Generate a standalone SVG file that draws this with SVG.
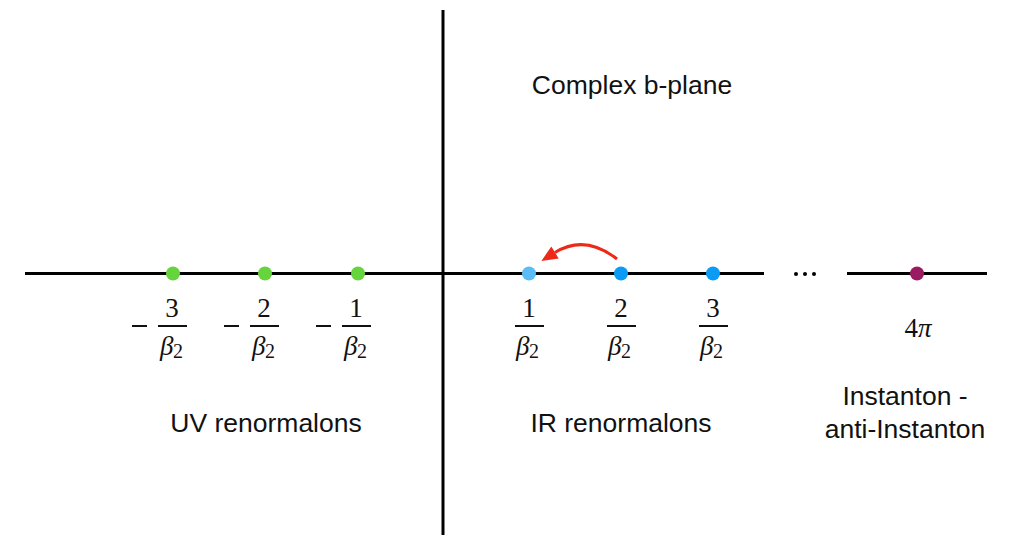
<svg xmlns="http://www.w3.org/2000/svg" width="1012" height="537" viewBox="0 0 1012 537">
<style>
.axis{stroke:#000;stroke-width:3;fill:none}
.lbl{font-family:"Liberation Sans",Arial,sans-serif;font-size:26.5px;fill:#111;text-anchor:middle}
.m{font-family:"Liberation Serif","Times New Roman",serif;font-size:27px;fill:#111;text-anchor:middle}
.mi{font-family:"Liberation Serif","Times New Roman",serif;font-size:27px;font-style:italic;fill:#111}
.sub{font-family:"Liberation Serif","Times New Roman",serif;font-size:20px;fill:#111}
.bar{stroke:#111;stroke-width:2}
.g{fill:#66d43c}
.b{fill:#0a9cf5}
.lb{fill:#5bbcf8}
.p{fill:#9a1b62}
</style>
<defs>
<marker id="ah" markerWidth="17" markerHeight="15" refX="0" refY="7" orient="auto" markerUnits="userSpaceOnUse" viewBox="0 0 17 14" overflow="visible">
<path d="M0,0 L16,7 L0,14 z" fill="#ec2a17"/>
</marker>
</defs>
<g id="axes">
<line class="axis" x1="25" y1="273.500" x2="764" y2="273.500"/>
<line class="axis" x1="847" y1="273.500" x2="987" y2="273.500"/>
<line class="axis" x1="443" y1="10" x2="443" y2="535"/>
<circle cx="796" cy="274" r="2" fill="#000"/>
<circle cx="805" cy="274" r="2" fill="#000"/>
<circle cx="814" cy="274" r="2" fill="#000"/>
</g>
<g id="connectors">
<path d="M617,259 Q585,234 555,252.500" fill="none" stroke="#ec2a17" stroke-width="3" marker-end="url(#ah)"/>
</g>
<g id="uv3"><circle class="g" cx="173" cy="273.500" r="7"/>
<line class="bar" x1="132" y1="326" x2="147" y2="326"/><line class="bar" x1="158" y1="326" x2="187" y2="326"/>
<text x="172" y="317" class="m">3</text><text x="160" y="355" class="mi">β</text><text x="173" y="358" class="sub">2</text></g>
<g id="uv2"><circle class="g" cx="265" cy="273.500" r="7"/>
<line class="bar" x1="224" y1="326" x2="239" y2="326"/><line class="bar" x1="250" y1="326" x2="279" y2="326"/>
<text x="264" y="317" class="m">2</text><text x="252" y="355" class="mi">β</text><text x="265" y="358" class="sub">2</text></g>
<g id="uv1"><circle class="g" cx="358" cy="273.500" r="7"/>
<line class="bar" x1="316" y1="326" x2="331" y2="326"/><line class="bar" x1="342" y1="326" x2="371" y2="326"/>
<text x="356" y="317" class="m">1</text><text x="344" y="355" class="mi">β</text><text x="357" y="358" class="sub">2</text></g>
<g id="ir1"><circle class="lb" cx="529" cy="273.500" r="7"/>
<line class="bar" x1="515" y1="326" x2="544" y2="326"/>
<text x="529" y="317" class="m">1</text><text x="516" y="355" class="mi">β</text><text x="529" y="358" class="sub">2</text></g>
<g id="ir2"><circle class="b" cx="621" cy="273.500" r="7"/>
<line class="bar" x1="607" y1="326" x2="636" y2="326"/>
<text x="621" y="317" class="m">2</text><text x="608" y="355" class="mi">β</text><text x="621" y="358" class="sub">2</text></g>
<g id="ir3"><circle class="b" cx="713" cy="273.500" r="7"/>
<line class="bar" x1="699" y1="326" x2="728" y2="326"/>
<text x="713" y="317" class="m">3</text><text x="700" y="355" class="mi">β</text><text x="713" y="358" class="sub">2</text></g>
<g id="inst"><circle class="p" cx="917" cy="273.500" r="7"/>
<text x="918" y="337" class="m">4<tspan font-style="italic">π</tspan></text></g>
<g id="labels">
<text x="632" y="94" class="lbl">Complex b-plane</text>
<text x="266" y="432" class="lbl">UV renormalons</text>
<text x="621" y="432" class="lbl">IR renormalons</text>
<text x="905" y="405" class="lbl">Instanton -</text>
<text x="905" y="438" class="lbl">anti-Instanton</text>
</g>
</svg>
